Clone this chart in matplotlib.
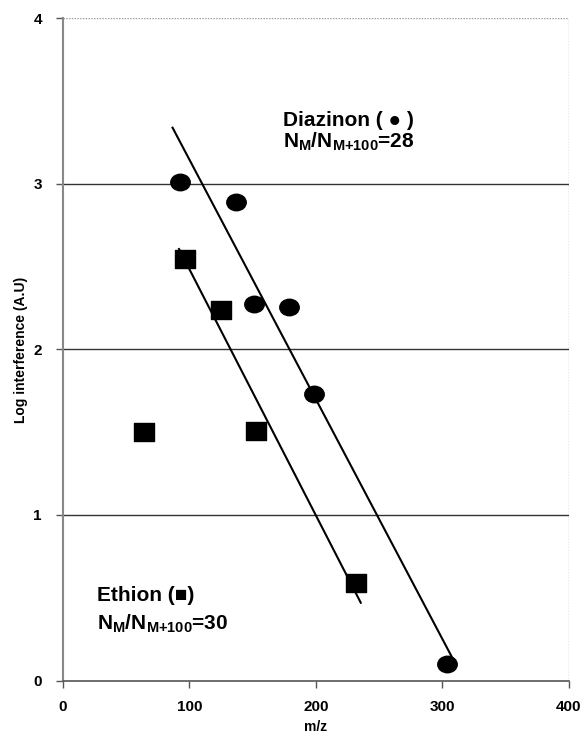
import numpy as np
import matplotlib.pyplot as plt
from matplotlib.path import Path
from matplotlib.transforms import Affine2D

plt.rcParams['font.family'] = ['Liberation Sans', 'DejaVu Sans']
plt.rcParams['mathtext.fontset'] = 'custom'
plt.rcParams['mathtext.bf'] = 'Liberation Sans:bold'
plt.rcParams['mathtext.rm'] = 'Liberation Sans:bold'

# Diazinon (circles)
diazinon_mz = [92.7, 136.6, 151.4, 179.0, 198.7, 303.5]
diazinon_log = [3.01, 2.89, 2.275, 2.255, 1.73, 0.10]
diazinon_fit_x = [86.8, 309.0]
diazinon_fit_y = [3.34, 0.12]

# Ethion (squares)
ethion_mz = [64.5, 96.6, 125.0, 153.0, 231.4]
ethion_log = [1.50, 2.545, 2.24, 1.51, 0.59]
ethion_fit_x = [91.9, 235.5]
ethion_fit_y = [2.607, 0.47]

x_ticks = [0, 100, 200, 300, 400]
y_ticks = [0, 1, 2, 3, 4]

# slightly wide dots, like the original
oval = Path.unit_circle().transformed(Affine2D().scale(1.18, 1.0))
box = Path.unit_rectangle().transformed(Affine2D().translate(-0.5, -0.5).scale(1.1, 1.0))

fig = plt.figure(figsize=(5.85, 7.36), dpi=100)
ax = fig.add_axes([0.1072, 0.0754, 0.8654, 0.8995])

for y in y_ticks[1:-1]:
    ax.axhline(y, color='#333333', lw=1.0, zorder=1)
ax.axhline(4, color='#999999', lw=1.0, ls=(0, (1, 1)), zorder=1)
ax.axvline(400, color='#999999', lw=1.0, ls=(0, (1, 1)), zorder=1)

ax.plot(diazinon_fit_x, diazinon_fit_y, color='black', lw=1.5, zorder=2)
ax.plot(ethion_fit_x, ethion_fit_y, color='black', lw=1.5, zorder=2)
ax.plot(diazinon_mz, diazinon_log, ls='none', marker=oval, color='black', ms=14, zorder=3)
ax.plot(ethion_mz, ethion_log, ls='none', marker=box, color='black', ms=15, zorder=3)

ax.set_xlim(0, 400)
ax.set_ylim(0, 4)
ax.set_xticks(x_ticks)
ax.set_yticks(y_ticks)
ax.tick_params(axis='both', direction='out', length=5, width=1, colors='#555555',
               labelcolor='black', labelsize=11)
ax.tick_params(axis='x', pad=9)
ax.tick_params(axis='y', pad=10)
for lab in ax.get_xticklabels() + ax.get_yticklabels():
    lab.set_fontweight('bold')

ax.spines['top'].set_visible(False)
ax.spines['right'].set_visible(False)
ax.spines['left'].set_color('#888888')
ax.spines['left'].set_linewidth(1.5)
ax.spines['bottom'].set_color('#555555')
ax.spines['bottom'].set_linewidth(1.2)

ax.set_xlabel('m/z', fontsize=10, fontweight='bold', labelpad=4)
ax.set_ylabel('Log interference (A.U)', fontsize=10, fontweight='bold', labelpad=4)

ax.text(174, 3.35, 'Diazinon ( \u25cf )', fontsize=15, fontweight='bold', va='baseline')
ax.text(174, 3.22, r'$\mathbf{N_M/N_{M{+}100}}$=28', fontsize=15, fontweight='bold', va='baseline')
ax.text(27, 0.48, 'Ethion (\u25a0)', fontsize=15, fontweight='bold', va='baseline')
ax.text(27, 0.305, r'$\mathbf{N_M/N_{M{+}100}}$=30', fontsize=15, fontweight='bold', va='baseline')

fig.savefig('out.png', dpi=100)
